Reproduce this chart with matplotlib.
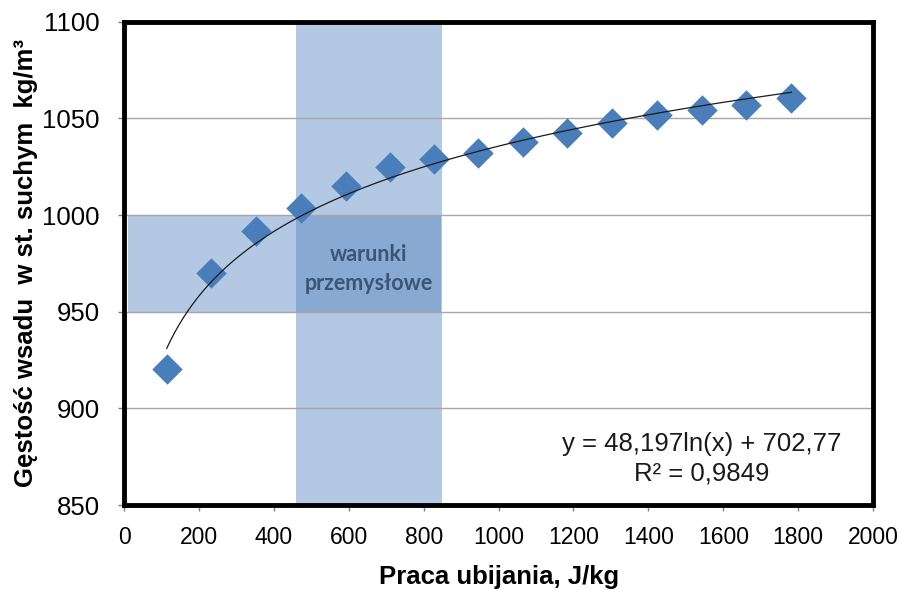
import numpy as np
import matplotlib
matplotlib.use("Agg")
import matplotlib.pyplot as plt

plt.rcParams['font.family'] = ['Liberation Sans', 'DejaVu Sans']

# Compaction work [J/kg] and dry bulk density [kg/m3]
work = [114, 232, 352, 472, 592, 710, 828, 946, 1064, 1184, 1302, 1422, 1542, 1660, 1782]
density = [920.3, 970, 992, 1003.5, 1015, 1025, 1029, 1032, 1038, 1042.6, 1047.8, 1051.8, 1054.4, 1057, 1060.4]

# Logarithmic trend line coefficients
coef_a = 48.197
coef_b = 702.77
r_squared = "0,9849"

# Industrial operating ranges
band_x = (459, 849)
band_y = (950, 1000)
band_y_x = (11, 846)

x_ticks = [0, 200, 400, 600, 800, 1000, 1200, 1400, 1600, 1800, 2000]
y_ticks = [850, 900, 950, 1000, 1050, 1100]

fig = plt.figure(figsize=(9.02, 5.90), dpi=100)
ax = fig.add_axes([0.1375, 0.144, 0.8305, 0.819])

ax.set_xlim(0, 2000)
ax.set_ylim(850, 1100)

band_color = '#4f81bd'
ax.axvspan(band_x[0], band_x[1], color=band_color, alpha=0.43, lw=0, zorder=1)
ax.fill_between(band_y_x, band_y[0], band_y[1], color=band_color, alpha=0.43, lw=0, zorder=1)

for yv in y_ticks[1:-1]:
    ax.axhline(yv, color='#a6a6a6', lw=1.0, zorder=2)

ax.scatter(work, density, marker='D', s=15.5**2, color='#4a7ebb', lw=0, zorder=3)

xs = np.linspace(work[0], work[-1], 300)
ax.plot(xs, coef_a * np.log(xs) + coef_b, color='#1a1a1a', lw=0.9, zorder=4)

ax.text(654, 979.5, 'warunki', ha='center', va='center', fontsize=15.5,
        family=['Lato', 'DejaVu Sans'], fontweight='bold', color='#3a5578', zorder=5)
ax.text(654, 964.5, 'przemysłowe', ha='center', va='center', fontsize=15.5,
        family=['Lato', 'DejaVu Sans'], fontweight='bold', color='#3a5578', zorder=5)

eq = 'y = {}ln(x) + {}'.format(str(coef_a).replace('.', ','), str(coef_b).replace('.', ','))
ax.text(1543, 881.5, eq, ha='center', va='center', fontsize=18.5, color='#1a1a1a', zorder=5)
ax.text(1543, 866.5, 'R² = ' + r_squared, ha='center', va='center', fontsize=18.5, color='#1a1a1a', zorder=5)

ax.set_xticks(x_ticks)
ax.set_yticks(y_ticks)
ax.tick_params(axis='both', direction='out', length=4, width=1, color='#808080')
ax.tick_params(axis='x', labelsize=16.5, pad=11)
ax.tick_params(axis='y', labelsize=18.5, pad=13.5)

for s in ax.spines.values():
    s.set_linewidth(3.5)
    s.set_color('black')

ax.set_xlabel('Praca ubijania, J/kg', fontsize=18.5, fontweight='bold', va='top')
ax.set_ylabel('Gęstość wsadu  w st. suchym  kg/m³', fontsize=18.5, fontweight='bold')
ax.xaxis.set_label_coords(0.5, -0.124)
ax.yaxis.set_label_coords(-0.115, 0.5)

fig.savefig('out.png', dpi=100, facecolor='white')
